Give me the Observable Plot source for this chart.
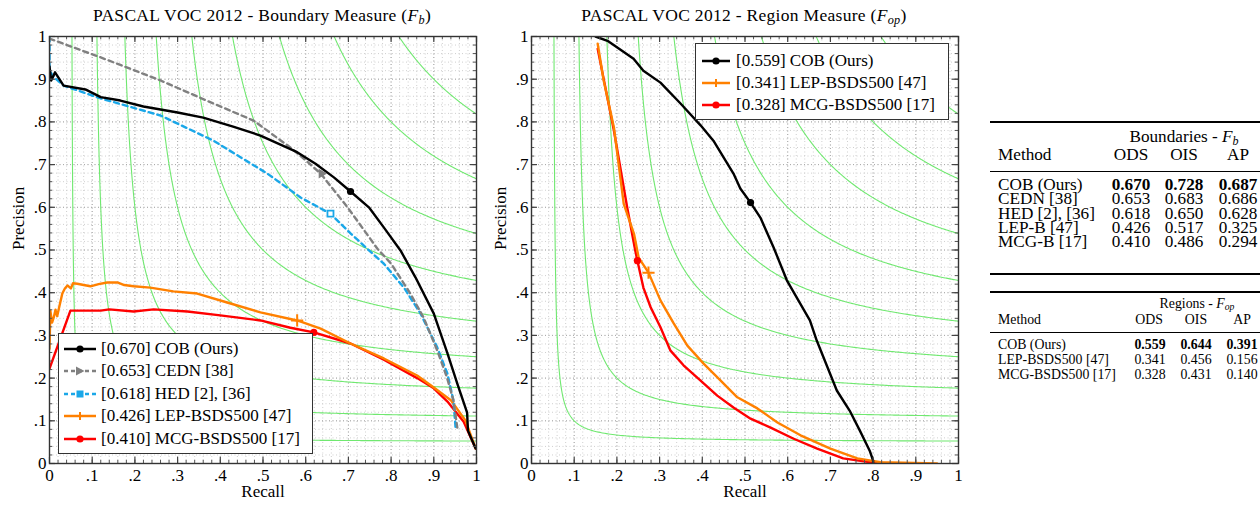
<!DOCTYPE html>
<html><head><meta charset="utf-8">
<script src="https://cdn.jsdelivr.net/npm/d3@7"></script>
<script src="https://cdn.jsdelivr.net/npm/@observablehq/plot@0.6"></script>
<style>
body{margin:0;background:#fff;}
#root{position:relative;width:1260px;height:506px;font-family:"Liberation Serif","DejaVu Serif",serif;color:#000;overflow:hidden;background:#fff}
.abs{position:absolute;white-space:nowrap;line-height:1}
.legend{position:absolute;background:#fff;border:1.5px solid #333;box-sizing:border-box}
.lrow{position:absolute;left:0;height:22px;white-space:nowrap}
.lrow svg{position:absolute;top:0}
.lrow span{position:absolute;top:2px;font-size:17px;line-height:18px}
.rule{position:absolute;background:#000}
svg.plot{position:absolute;top:30px}
svg.plot text{font-family:"Liberation Serif","DejaVu Serif",serif !important;font-size:17px !important;font-weight:normal !important;fill:#000}
</style></head><body><div id="root"></div>
<script>
// ---------------- DATA ----------------
const F_LEVELS = [0.1,0.2,0.3,0.4,0.5,0.6,0.7,0.8,0.9];
const TICKS_MAJOR = [0,0.1,0.2,0.3,0.4,0.5,0.6,0.7,0.8,0.9,1];
const TICK_LABELS = ["0",".1",".2",".3",".4",".5",".6",".7",".8",".9","1"];

// Boundary measure (F_b): [recall, precision]
const FB_COB = [[0,0.93],[0.004,0.897],[0.013,0.916],[0.033,0.885],[0.084,0.876],[0.12,0.858],[0.166,0.85],[0.22,0.836],[0.30,0.822],[0.36,0.81],[0.43,0.789],[0.494,0.768],[0.58,0.729],[0.623,0.702],[0.666,0.67],[0.705,0.637],[0.748,0.60],[0.785,0.55],[0.822,0.499],[0.857,0.436],[0.9,0.351],[0.932,0.258],[0.955,0.187],[0.978,0.119],[0.98,0.077],[0.998,0.035]];
const FB_CEDN = [[0,0.995],[0.12,0.951],[0.26,0.897],[0.384,0.843],[0.478,0.803],[0.564,0.74],[0.6,0.71],[0.635,0.679],[0.698,0.60],[0.768,0.503],[0.80,0.468],[0.845,0.398],[0.876,0.342],[0.908,0.265],[0.931,0.201],[0.946,0.148],[0.955,0.084]];
const FB_HED = [[0,1],[0,0.92],[0.01,0.905],[0.033,0.885],[0.12,0.855],[0.26,0.815],[0.384,0.756],[0.51,0.679],[0.588,0.623],[0.658,0.585],[0.705,0.539],[0.744,0.503],[0.783,0.468],[0.83,0.412],[0.869,0.351],[0.908,0.272],[0.932,0.21],[0.946,0.147],[0.951,0.084]];
const FB_LEP = [[0,0.269],[0.002,0.358],[0.006,0.33],[0.01,0.342],[0.014,0.36],[0.018,0.345],[0.022,0.363],[0.03,0.398],[0.036,0.41],[0.042,0.417],[0.05,0.41],[0.055,0.422],[0.065,0.421],[0.08,0.418],[0.096,0.415],[0.115,0.42],[0.135,0.424],[0.159,0.424],[0.175,0.418],[0.197,0.415],[0.236,0.412],[0.29,0.403],[0.346,0.398],[0.416,0.377],[0.494,0.354],[0.58,0.335],[0.635,0.316],[0.705,0.281],[0.783,0.246],[0.861,0.206],[0.9,0.178],[0.94,0.148],[0.974,0.101],[0.998,0.035]];
const FB_MCG = [[0,0.222],[0.049,0.358],[0.12,0.358],[0.14,0.361],[0.197,0.356],[0.244,0.361],[0.323,0.356],[0.4,0.347],[0.494,0.335],[0.564,0.318],[0.619,0.307],[0.705,0.281],[0.783,0.243],[0.861,0.2],[0.9,0.176],[0.932,0.145],[0.97,0.098],[0.998,0.035]];
const FB_MARKERS = {COB:[0.705,0.637], CEDN:[0.637,0.679], HED:[0.658,0.585], LEP:[0.58,0.335], MCG:[0.619,0.307]};

// Region measure (F_op)
const FOP_COB = [[0.15,1.0],[0.178,0.99],[0.239,0.948],[0.262,0.92],[0.302,0.892],[0.349,0.843],[0.396,0.792],[0.426,0.756],[0.473,0.679],[0.489,0.644],[0.513,0.611],[0.536,0.576],[0.567,0.506],[0.598,0.429],[0.652,0.335],[0.668,0.288],[0.715,0.171],[0.745,0.124],[0.769,0.077],[0.792,0.03],[0.80,0.007],[0.80,0.0]];
const FOP_LEP = [[0.155,0.983],[0.169,0.897],[0.193,0.787],[0.216,0.608],[0.24,0.538],[0.251,0.482],[0.274,0.447],[0.302,0.382],[0.333,0.328],[0.365,0.276],[0.403,0.234],[0.443,0.194],[0.482,0.155],[0.529,0.129],[0.576,0.096],[0.63,0.066],[0.7,0.035],[0.763,0.012],[0.817,0.003],[0.95,0.0]];
const FOP_MCG = [[0.155,0.971],[0.193,0.78],[0.224,0.6],[0.243,0.499],[0.248,0.475],[0.262,0.412],[0.279,0.366],[0.302,0.319],[0.325,0.265],[0.356,0.23],[0.396,0.194],[0.435,0.159],[0.473,0.131],[0.513,0.105],[0.56,0.084],[0.614,0.058],[0.669,0.035],[0.73,0.012],[0.8,0.002],[0.848,0.0]];
const FOP_MARKERS = {COB:[0.513,0.611], LEP:[0.274,0.447], MCG:[0.248,0.475]};

const FB_LABELS = ["[0.670] COB (Ours)","[0.653] CEDN [38]","[0.618] HED [2], [36]","[0.426] LEP-BSDS500 [47]","[0.410] MCG-BSDS500 [17]"];
const FOP_LABELS = ["[0.559] COB (Ours)","[0.341] LEP-BSDS500 [47]","[0.328] MCG-BSDS500 [17]"];

// Tables
const TB_METHODS = ["COB (Ours)","CEDN [38]","HED [2], [36]","LEP-B [47]","MCG-B [17]"];
const TB_ODS = ["0.670","0.653","0.618","0.426","0.410"];
const TB_OIS = ["0.728","0.683","0.650","0.517","0.486"];
const TB_AP  = ["0.687","0.686","0.628","0.325","0.294"];
const TR_METHODS = ["COB (Ours)","LEP-BSDS500 [47]","MCG-BSDS500 [17]"];
const TR_ODS = ["0.559","0.341","0.328"];
const TR_OIS = ["0.644","0.456","0.431"];
const TR_AP  = ["0.391","0.156","0.140"];

// ---------------- STYLES ----------------
const C = {COB:"#000000", CEDN:"#808080", HED:"#1aa7e8", LEP:"#ff8000", MCG:"#ff0000"};
const DASH = "5,4";
const FONT = '"Liberation Serif","DejaVu Serif",serif';

const root = document.getElementById("root");

function isoCurves() {
  return F_LEVELS.flatMap(f => {
    const lo = f / (2 - f);
    const pts = [];
    for (let i = 0; i <= 200; i++) { const r = lo + (1 - lo) * i / 200; pts.push({f, r, p: f * r / (2 * r - f)}); }
    for (let i = 0; i <= 200; i++) { const p = lo + (1 - lo) * i / 200; pts.push({f, r: f * p / (2 * p - f), p}); }
    return pts.sort((a, b) => a.r - b.r);
  });
}

function prPlot(series, markers, width, ml, mr) {
  const minor = d3.range(0, 51).map(i => i / 50);
  const fmt = d => TICK_LABELS[Math.round(d * 10)];
  const M = 0.0075, J = 0.014;
  const marks = [
    Plot.gridX(minor, {stroke: "#cfcfcf", strokeOpacity: 1, strokeDasharray: "1,2.5"}),
    Plot.gridY(minor, {stroke: "#cfcfcf", strokeOpacity: 1, strokeDasharray: "1,2.5"}),
    Plot.gridX(TICKS_MAJOR, {stroke: "#a8a8a8", strokeOpacity: 1, strokeDasharray: "1,2.5"}),
    Plot.gridY(TICKS_MAJOR, {stroke: "#a8a8a8", strokeOpacity: 1, strokeDasharray: "1,2.5"}),
    Plot.line(isoCurves(), {x: "r", y: "p", z: "f", stroke: "#70e870", strokeWidth: 1.1, clip: true}),
  ];
  for (const s of series) {
    marks.push(Plot.line(s.data, {x: d => d[0], y: d => d[1], stroke: s.color, strokeWidth: 2.4, strokeDasharray: s.dash || null, clip: true}));
  }
  for (const m of markers) {
    marks.push(Plot.dot([m.at], {x: d => d[0], y: d => d[1], symbol: m.symbol, r: m.r || 3.6, fill: m.fill, stroke: m.stroke || "none", strokeWidth: m.sw || 1.5, rotate: m.rotate || 0}));
  }
  marks.push(
    Plot.ruleX(minor, {x: d => d, y1: 0, y2: M, stroke: "#555", strokeWidth: 1}),
    Plot.ruleX(minor, {x: d => d, y1: 1 - M, y2: 1, stroke: "#555", strokeWidth: 1}),
    Plot.ruleY(minor, {y: d => d, x1: 0, x2: M, stroke: "#555", strokeWidth: 1}),
    Plot.ruleY(minor, {y: d => d, x1: 1 - M, x2: 1, stroke: "#555", strokeWidth: 1}),
    Plot.ruleX(TICKS_MAJOR, {x: d => d, y1: 0, y2: J, stroke: "#444", strokeWidth: 1.2}),
    Plot.ruleX(TICKS_MAJOR, {x: d => d, y1: 1 - J, y2: 1, stroke: "#444", strokeWidth: 1.2}),
    Plot.ruleY(TICKS_MAJOR, {y: d => d, x1: 0, x2: J, stroke: "#444", strokeWidth: 1.2}),
    Plot.ruleY(TICKS_MAJOR, {y: d => d, x1: 1 - J, x2: 1, stroke: "#444", strokeWidth: 1.2}),
    Plot.frame({stroke: "#333", strokeWidth: 1.4}),
    Plot.axisX(TICKS_MAJOR, {tickSize: 0, tickPadding: 5, tickFormat: fmt, label: null, fontSize: 17, fontFamily: FONT}),
    Plot.axisY(TICKS_MAJOR, {tickSize: 0, tickPadding: 3, tickFormat: fmt, label: null, fontSize: 17, fontFamily: FONT}),
    Plot.text(["Recall"], {frameAnchor: "bottom", dy: 33, text: d => d, fontSize: 17, fontFamily: FONT}),
    Plot.text(["Precision"], {frameAnchor: "left", dx: -31, rotate: -90, text: d => d, fontSize: 17, fontFamily: FONT})
  );
  const svg = Plot.plot({
    width, height: 476, marginTop: 6, marginBottom: 43, marginLeft: ml, marginRight: mr,
    x: {domain: [0, 1]}, y: {domain: [0, 1]},
    style: {fontFamily: FONT, fontSize: "17px", background: "transparent", overflow: "visible", color: "#000"},
    marks
  });
  svg.classList.add("plot");
  return svg;
}

// measure a text's width at a given size and return the size that gives the target width
function fitSize(html, size, target) {
  const s = document.createElement("span");
  s.className = "abs";
  s.style.fontSize = size + "px";
  s.style.visibility = "hidden";
  s.innerHTML = html;
  root.appendChild(s);
  const w = s.getBoundingClientRect().width;
  root.removeChild(s);
  return w > 0 ? size * target / w : size;
}

function addText(html, x, yc, size, align, extra, lh) {
  const d = document.createElement("div");
  d.className = "abs";
  d.innerHTML = html;
  d.style.fontSize = size + "px";
  d.style.left = x + "px";
  if (lh) {
    d.style.lineHeight = lh + "px";
    d.style.height = lh + "px";
    d.style.top = (yc - lh / 2 - 0.05 * size) + "px";
  } else {
    d.style.top = (yc - 0.55 * size) + "px";
  }
  if (align === "center") d.style.transform = "translateX(-50%)";
  if (extra) Object.assign(d.style, extra);
  root.appendChild(d);
  return d;
}
function addRule(x, y, w, h) {
  const d = document.createElement("div");
  d.className = "rule";
  Object.assign(d.style, {left: x + "px", top: y + "px", width: w + "px", height: h + "px"});
  root.appendChild(d);
}

function sampleSVG(color, dash, symbol, w) {
  const c = w / 2;
  let sym = "";
  if (symbol === "circle") sym = `<circle cx="${c}" cy="11" r="3.6" fill="${color}"/>`;
  if (symbol === "tri") sym = `<path d="M${c-4},6.5L${c+4.5},11L${c-4},15.5Z" fill="${color}"/>`;
  if (symbol === "square") sym = `<rect x="${c-3.5}" y="7.5" width="7" height="7" fill="${color}"/>`;
  if (symbol === "plus") sym = `<path d="M${c-4},11H${c+4}M${c},7V15" stroke="${color}" stroke-width="2"/>`;
  return `<svg width="${w}" height="22"><line x1="0" x2="${w}" y1="11" y2="11" stroke="${color}" stroke-width="2.5" ${dash ? `stroke-dasharray="${dash}"` : ""}/>${sym}</svg>`;
}
function addLegend(x, y, w, h, items, first, step, sx, sw, tx) {
  const L = document.createElement("div");
  L.className = "legend";
  Object.assign(L.style, {left: x + "px", top: y + "px", width: w + "px", height: h + "px"});
  items.forEach((it, i) => {
    const r = document.createElement("div");
    r.className = "lrow";
    r.style.top = (first + i * step - 11) + "px";
    r.style.width = w + "px";
    r.innerHTML = sampleSVG(it.color, it.dash, it.symbol, sw).replace("<svg", `<svg style="left:${sx}px"`) + `<span style="left:${tx}px">${it.label}</span>`;
    L.appendChild(r);
  });
  root.appendChild(L);
}

// ---------------- LEFT PLOT ----------------
root.appendChild(prPlot(
  [
    {data: FB_MCG, color: C.MCG},
    {data: FB_LEP, color: C.LEP},
    {data: FB_HED, color: C.HED, dash: DASH},
    {data: FB_CEDN, color: C.CEDN, dash: DASH},
    {data: FB_COB, color: C.COB}
  ],
  [
    {at: FB_MARKERS.MCG, symbol: "circle", fill: C.MCG},
    {at: FB_MARKERS.LEP, symbol: "plus", fill: "none", stroke: C.LEP, sw: 2, r: 4},
    {at: FB_MARKERS.HED, symbol: "square", fill: "#fff", stroke: C.HED, sw: 1.8, r: 3.4},
    {at: FB_MARKERS.CEDN, symbol: "triangle", fill: C.CEDN, rotate: 90, r: 3.6},
    {at: FB_MARKERS.COB, symbol: "circle", fill: C.COB}
  ], 480, 49, 4));

// ---------------- RIGHT PLOT ----------------
const rp = prPlot(
  [
    {data: FOP_MCG, color: C.MCG},
    {data: FOP_LEP, color: C.LEP},
    {data: FOP_COB, color: C.COB}
  ],
  [
    {at: FOP_MARKERS.MCG, symbol: "circle", fill: C.MCG},
    {at: FOP_MARKERS.LEP, symbol: "plus", fill: "none", stroke: C.LEP, sw: 2, r: 4},
    {at: FOP_MARKERS.COB, symbol: "circle", fill: C.COB}
  ], 490, 51, 12);
rp.style.left = "480px";
root.appendChild(rp);

// Titles
const TSUB = 'style="font-size:0.7em;vertical-align:-0.25em"';
addText(`PASCAL VOC 2012 - Boundary Measure (<i>F<sub ${TSUB}>b</sub></i>)`, 262, 17, 17.5, "center", {letterSpacing: "0.3px"});
addText(`PASCAL VOC 2012 - Region Measure (<i>F<sub ${TSUB}>op</sub></i>)`, 744, 17, 17.5, "center", {letterSpacing: "0.3px"});

// Legends
addLegend(58, 333, 255, 121, [
  {color: C.COB, symbol: "circle", label: FB_LABELS[0]},
  {color: C.CEDN, dash: "4,3", symbol: "tri", label: FB_LABELS[1]},
  {color: C.HED, dash: "4,3", symbol: "square", label: FB_LABELS[2]},
  {color: C.LEP, symbol: "plus", label: FB_LABELS[3]},
  {color: C.MCG, symbol: "circle", label: FB_LABELS[4]}
], 14.5, 22.6, 5, 32, 42);
addLegend(695, 43, 254, 77, [
  {color: C.COB, symbol: "circle", label: FOP_LABELS[0]},
  {color: C.LEP, symbol: "plus", label: FOP_LABELS[1]},
  {color: C.MCG, symbol: "circle", label: FOP_LABELS[2]}
], 16.5, 22, 6, 28, 40);

// ---------------- TABLE 1 ----------------
const S1 = Math.min(17.5, fitSize(TB_METHODS[2], 16, 97));
addRule(990, 121, 280, 1.6);
addText(`Boundaries - <i>F<sub ${TSUB}>b</sub></i>`, 1184, 137, S1, "center", null, 15);
addText("Method", 998, 155, S1, null, null, 15);
addText("ODS", 1131, 155, S1, "center", null, 15);
addText("OIS", 1184, 155, S1, "center", null, 15);
addText("AP", 1238, 155, S1, "center", null, 15);
addRule(990, 170.5, 280, 0.9);
TB_METHODS.forEach((m, i) => {
  const y = 186 + i * 14.2;
  const b = i === 0 ? {fontWeight: "bold"} : null;
  addText(m, 998, y, S1, null, null, 14);
  addText(TB_ODS[i], 1131, y, S1, "center", b, 14);
  addText(TB_OIS[i], 1184, y, S1, "center", b, 14);
  addText(TB_AP[i], 1238, y, S1, "center", b, 14);
});
addRule(990, 273, 280, 1.6);

// ---------------- TABLE 2 ----------------
const S2 = Math.min(15, fitSize(TR_METHODS[1], 14, 111));
addRule(990, 291, 280, 1.6);
addText(`Regions - <i>F<sub ${TSUB}>op</sub></i>`, 1197, 305, S2, "center", null, 14);
addText("Method", 998, 321, S2, null, null, 14);
addText("ODS", 1149, 321, S2, "center", null, 14);
addText("OIS", 1196, 321, S2, "center", null, 14);
addText("AP", 1242, 321, S2, "center", null, 14);
addRule(990, 332, 280, 0.9);
TR_METHODS.forEach((m, i) => {
  const y = 346 + i * 15;
  const b = i === 0 ? {fontWeight: "bold"} : null;
  addText(m, 998, y, S2, null, null, 14);
  addText(TR_ODS[i], 1150, y, S2, "center", b, 14);
  addText(TR_OIS[i], 1196, y, S2, "center", b, 14);
  addText(TR_AP[i], 1242, y, S2, "center", b, 14);
});
</script></body></html>
